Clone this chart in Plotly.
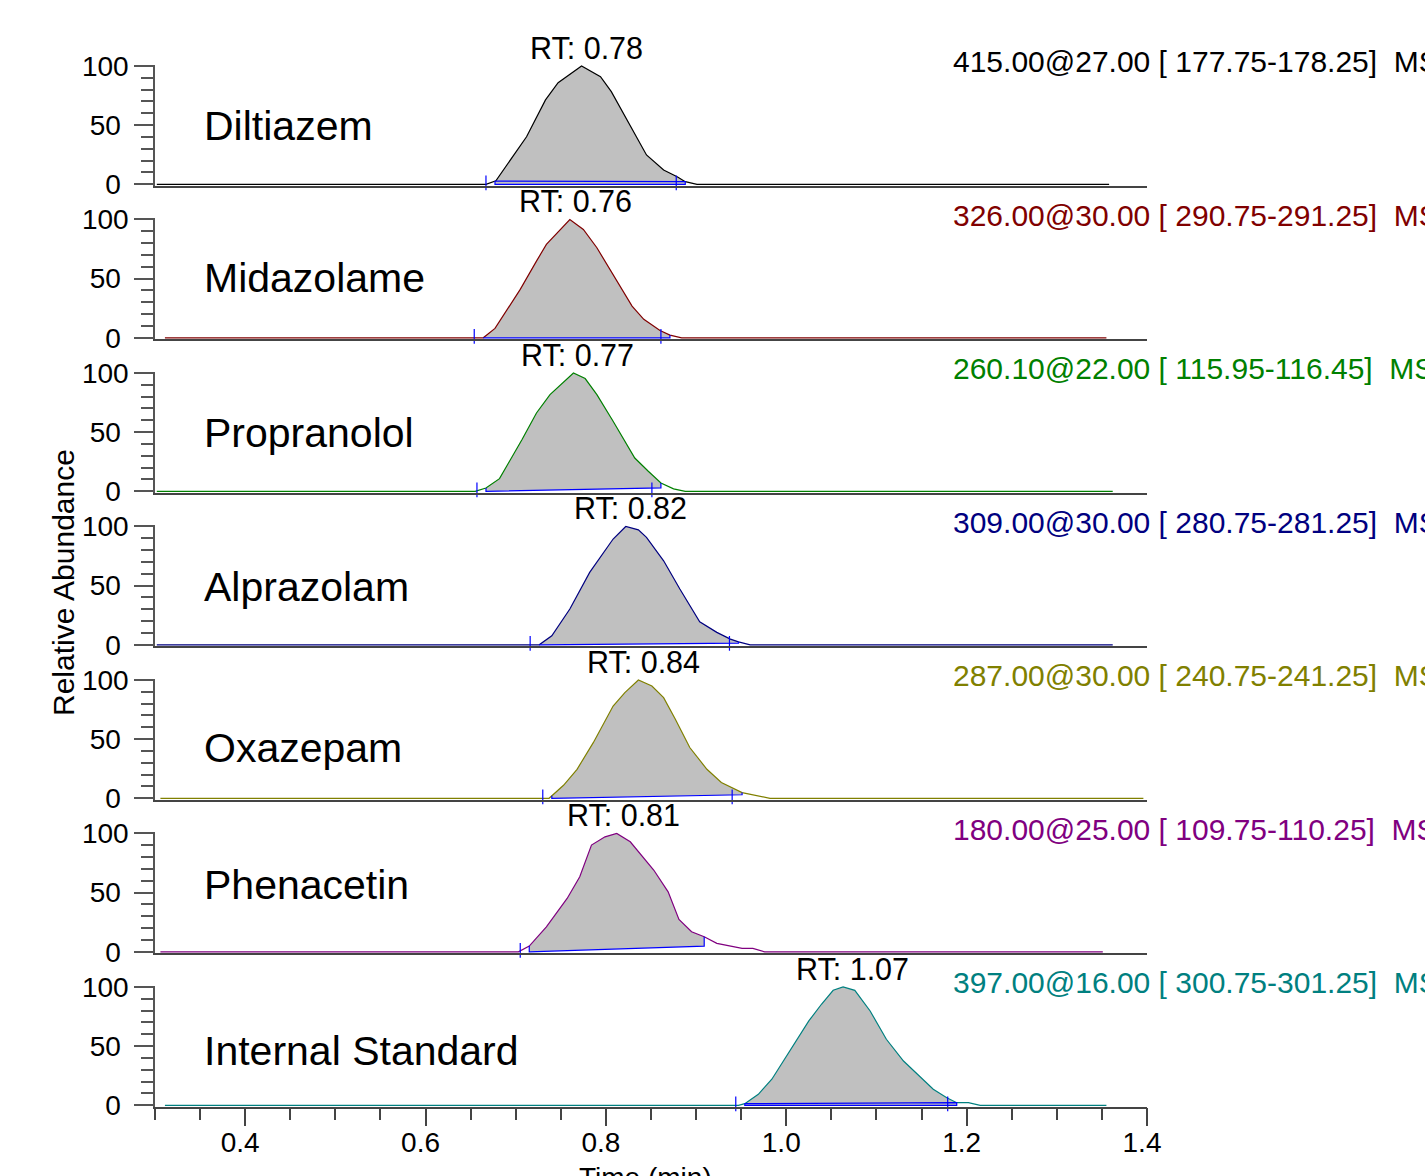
import numpy as np
import plotly.graph_objects as go

# ---------------- data ----------------
compounds = ["Diltiazem", "Midazolame", "Propranolol", "Alprazolam",
             "Oxazepam", "Phenacetin", "Internal Standard"]
transitions = ["415.00@27.00 [ 177.75-178.25]", "326.00@30.00 [ 290.75-291.25]",
               "260.10@22.00 [ 115.95-116.45]", "309.00@30.00 [ 280.75-281.25]",
               "287.00@30.00 [ 240.75-241.25]", "180.00@25.00 [ 109.75-110.25]",
               "397.00@16.00 [ 300.75-301.25]"]
rt_text = ["0.78", "0.76", "0.77", "0.82", "0.84", "0.81", "1.07"]
rt_pos = [0.779, 0.766, 0.768, 0.827, 0.842, 0.819, 1.073]

trace_start = [0.302, 0.311, 0.302, 0.302, 0.306, 0.306, 0.311]
trace_end = [1.358, 1.355, 1.362, 1.362, 1.396, 1.351, 1.355]

peak_t_1 = [0.667, 0.678, 0.712, 0.733, 0.747, 0.773, 0.794, 0.806, 0.830, 0.845, 0.864, 0.879, 0.888, 0.901]
peak_i_1 = [0, 3.0, 40.2, 71.3, 85.9, 100, 91.0, 78.3, 45.9, 24.8, 12.1, 6.4, 2.2, 0]

peak_t_2 = [0.664, 0.677, 0.705, 0.723, 0.734, 0.760, 0.775, 0.790, 0.808, 0.829, 0.842, 0.860, 0.871, 0.884]
peak_i_2 = [0, 7.9, 40.9, 64.8, 78.9, 100, 91.6, 76.1, 53.6, 26.8, 15.6, 6.2, 2.3, 0]

peak_t_3 = [0.655, 0.667, 0.682, 0.707, 0.723, 0.738, 0.764, 0.777, 0.790, 0.808, 0.832, 0.847, 0.861, 0.875, 0.888]
peak_i_3 = [0, 2.8, 10.7, 43.7, 66.2, 81.7, 100, 95.3, 81.7, 59.2, 28.1, 16.9, 7.0, 2.0, 0]

peak_t_4 = [0.726, 0.740, 0.760, 0.782, 0.808, 0.822, 0.836, 0.845, 0.864, 0.882, 0.904, 0.923, 0.938, 0.947, 0.960]
peak_i_4 = [0, 7.6, 30.2, 61.2, 89.4, 100, 97.2, 90.8, 71.0, 47.1, 19.4, 10.5, 4.8, 2.5, 0]

peak_t_5 = [0.737, 0.753, 0.768, 0.786, 0.808, 0.821, 0.836, 0.851, 0.864, 0.877, 0.893, 0.912, 0.928, 0.951, 0.975, 0.982]
peak_i_5 = [0, 11.0, 24.5, 47.0, 78.0, 89.3, 100, 94.9, 85.1, 66.8, 42.9, 24.5, 13.3, 4.8, 1.1, 0]

peak_t_6 = [0.703, 0.715, 0.734, 0.757, 0.771, 0.784, 0.799, 0.812, 0.827, 0.853, 0.869, 0.881, 0.895, 0.909, 0.923, 0.951, 0.963, 0.976]
peak_i_6 = [0, 4.8, 21.1, 45.1, 63.4, 90.2, 97.2, 100, 93.0, 69.1, 50.7, 27.4, 16.9, 12.7, 7.1, 2.9, 2.9, 0]

peak_t_7 = [0.947, 0.954, 0.969, 0.984, 1.004, 1.025, 1.039, 1.052, 1.063, 1.076, 1.093, 1.111, 1.130, 1.146, 1.163, 1.178, 1.189, 1.202, 1.215]
peak_i_7 = [0, 1.4, 9.3, 22.0, 45.9, 71.3, 85.4, 97.2, 100, 97.2, 79.7, 55.8, 37.4, 26.2, 13.5, 6.4, 2.2, 2.2, 0]

peak_t = [peak_t_1, peak_t_2, peak_t_3, peak_t_4, peak_t_5, peak_t_6, peak_t_7]
peak_i = [peak_i_1, peak_i_2, peak_i_3, peak_i_4, peak_i_5, peak_i_6, peak_i_7]

# integration (peak start/end, baseline levels)
int_start = [0.677, 0.664, 0.667, 0.726, 0.740, 0.715, 0.954]
int_end = [0.888, 0.871, 0.861, 0.947, 0.951, 0.909, 1.189]
base_start = [0, 0, 0, 0, 0, 0, 0]
base_end = [0, 0, 2.8, 1.4, 3.0, 4.8, 0]
closed_box = [True, False, False, False, False, False, True]
marks = [[0.667, 0.878], [0.654, 0.861], [0.657, 0.851], [0.716, 0.937],
         [0.730, 0.940], [0.705], [0.944, 1.179]]

x_ticks = [0.4, 0.6, 0.8, 1.0, 1.2, 1.4]
y_ticks = [0, 50, 100]

# ---------------- style ----------------
colors = ["#000000", "#800000", "#008000", "#000080", "#808000", "#800080", "#008080"]
FONT = "Liberation Sans, Arial, sans-serif"
W, H = 1425, 1176
first_bottom, spacing, panel_h = 185.7, 153.5, 120.9
YMIN, YMAX = -1.2, 101
name_y = [49, 50.5, 49, 48.8, 42.3, 56.4, 45.9]
NB = "\u00a0"

fig = go.Figure()
annotations = []
n = len(compounds)
for k in range(n):
    sx = "" if k == 0 else str(k + 1)
    xa, ya = "x" + sx, "y" + sx
    t = np.array([trace_start[k]] + peak_t[k] + [trace_end[k]])
    yv = np.array([0] + peak_i[k] + [0])
    ts, te = int_start[k], int_end[k]
    cs, ce = np.interp(ts, t, yv), np.interp(te, t, yv)
    inside = (t > ts) & (t < te)
    px = [ts] + list(t[inside]) + [te, te, ts]
    py = [cs] + list(yv[inside]) + [ce, base_end[k], base_start[k]]
    fig.add_trace(go.Scatter(x=px, y=py, fill="toself", fillcolor="rgb(192,192,192)",
                             line=dict(width=0), mode="lines", xaxis=xa, yaxis=ya,
                             hoverinfo="skip", showlegend=False))
    fig.add_trace(go.Scatter(x=t, y=yv, mode="lines", line=dict(color=colors[k], width=1.2),
                             xaxis=xa, yaxis=ya, showlegend=False))
    bx = [ts, ts, te, te]
    by = [cs, base_start[k], base_end[k], ce]
    if closed_box[k]:
        bx.append(ts)
        by.append(cs)
    fig.add_trace(go.Scatter(x=bx, y=by, mode="lines", line=dict(color="#0000ff", width=1.2),
                             xaxis=xa, yaxis=ya, showlegend=False, hoverinfo="skip"))
    fig.add_trace(go.Scatter(x=marks[k], y=[1.2] * len(marks[k]), mode="markers",
                             marker=dict(symbol="line-ns", size=10.5,
                                         line=dict(color="#0000ff", width=1.2)),
                             cliponaxis=False, xaxis=xa, yaxis=ya, showlegend=False,
                             hoverinfo="skip"))

    bottom = first_bottom + spacing * k
    dom = [1 - bottom / H, 1 - (bottom - panel_h) / H]
    last = (k == n - 1)
    xaxis = dict(domain=[0, 1], range=[0.3, 1.4], anchor=ya, showgrid=False, zeroline=False,
                 showline=True, linecolor="#444444", linewidth=1.5, automargin=False)
    if last:
        xaxis.update(ticks="outside", ticklen=18, tickwidth=1.5, tickcolor="#444444",
                     tickvals=x_ticks, ticktext=["%.1f" % v for v in x_ticks],
                     ticklabelshift=-5, ticklabelstandoff=-8,
                     tickfont=dict(family=FONT, size=28, color="black"),
                     minor=dict(dtick=0.05, tick0=0.3, ticks="outside", ticklen=12,
                                tickwidth=1.5, tickcolor="#444444"))
    else:
        xaxis.update(showticklabels=False, ticks="", matches="x" + str(n))
    yaxis = dict(domain=dom, range=[YMIN, YMAX], anchor=xa, showgrid=False, zeroline=False,
                 showline=True, linecolor="#555555", linewidth=1.5, automargin=False,
                 ticks="outside", ticklen=19, tickwidth=1.5, tickcolor="#555555",
                 tickvals=y_ticks,
                 ticktext=[str(v) + ("" if v >= 100 else NB) for v in y_ticks],
                 tickfont=dict(family=FONT, size=28, color="black"),
                 minor=dict(dtick=10, tick0=0, ticks="outside", ticklen=12.5,
                            tickwidth=1.5, tickcolor="#555555"))
    fig.layout["xaxis" + sx] = xaxis
    fig.layout["yaxis" + sx] = yaxis

    annotations.append(dict(x=rt_pos[k], y=100, xref=xa, yref=ya, text="RT: " + rt_text[k],
                            showarrow=False, yanchor="middle", yshift=18,
                            font=dict(family=FONT, size=30.5, color="black")))
    annotations.append(dict(x=(202 - 155) / 992, y=name_y[k], xref="paper", yref=ya,
                            text=compounds[k], showarrow=False, xanchor="left",
                            yanchor="middle", font=dict(family=FONT, size=41, color="black")))
    annotations.append(dict(x=(951 - 155) / 992, y=100, xref="paper", yref=ya,
                            text=transitions[k] + NB + NB + "MS", showarrow=False,
                            xanchor="left", yanchor="middle", yshift=4,
                            font=dict(family=FONT, size=30, color=colors[k])))

annotations.append(dict(x=(63 - 155) / 992, y=1 - 583 / H, xref="paper", yref="paper",
                        text="Relative Abundance", textangle=-90, showarrow=False,
                        xanchor="center", yanchor="middle",
                        font=dict(family=FONT, size=30, color="black")))
annotations.append(dict(x=(645 - 155) / 992, y=0, xref="paper", yref="paper",
                        text="Time (min)", showarrow=False, xanchor="center", yanchor="top",
                        yshift=16, font=dict(family=FONT, size=28, color="black")))

fig.update_layout(width=W, height=H, margin=dict(l=155, r=278, t=0, b=0, autoexpand=False),
                  plot_bgcolor="white", paper_bgcolor="white", showlegend=False,
                  annotations=annotations, font=dict(family=FONT))
fig.write_html("out.html")
